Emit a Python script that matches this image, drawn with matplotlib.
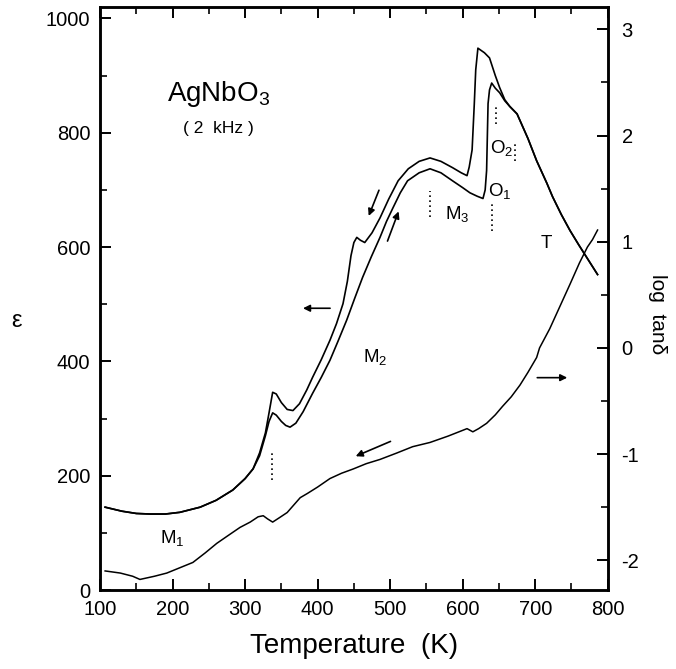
import numpy as np
import matplotlib
matplotlib.use("Agg")
import matplotlib.pyplot as plt
from matplotlib.ticker import MultipleLocator

plt.rcParams['font.family'] = ['Liberation Sans', 'DejaVu Sans']
plt.rcParams['mathtext.fontset'] = 'custom'
plt.rcParams['mathtext.rm'] = 'Liberation Sans'
plt.rcParams['mathtext.it'] = 'Liberation Sans'
plt.rcParams['axes.unicode_minus'] = False

# Data
# low-temperature part, shared by both permittivity curves
t_low = [107, 130, 150, 169, 190, 210, 238, 260, 283, 300, 311]
eps_low = [145, 138, 134, 133, 133, 136, 145, 157, 175, 195, 212]

# cooling run (upper curve)
t_cool = [320, 328, 333, 338, 343, 350, 358, 366, 375, 385, 393, 405, 417, 426,
          435, 441, 446, 450, 454, 459, 465, 475, 486, 498, 511, 525, 540, 555,
          570, 586, 598, 606, 609, 613, 616, 618, 621, 630, 637, 645, 651, 658]
eps_cool = [240, 275, 310, 346, 343, 328, 316, 314, 326, 350, 372, 403, 437, 466,
            501, 540, 585, 608, 617, 612, 608, 625, 651, 684, 716, 737, 750, 756,
            750, 739, 730, 725, 740, 770, 850, 910, 948, 940, 931, 900, 879, 858]

# heating run (lower curve)
t_heat = [320, 328, 333, 338, 343, 350, 356, 362, 370, 380, 393, 405, 417, 428,
          440, 451, 462, 474, 486, 495, 504, 514, 524, 540, 555, 570, 586, 600,
          610, 620, 628, 631, 633, 635, 637, 640, 645, 651, 658]
eps_heat = [235, 270, 295, 310, 306, 295, 288, 285, 292, 312, 344, 372, 402, 435,
            472, 510, 547, 583, 617, 645, 669, 695, 716, 730, 737, 730, 716, 704,
            695, 689, 685, 700, 734, 851, 875, 887, 878, 870, 856]

# high-temperature part, shared by both curves
t_high = [665, 675, 690, 702, 716, 724, 736, 748, 760, 771, 786]
eps_high = [846, 833, 790, 751, 712, 688, 657, 629, 604, 582, 552]

# log tan(delta)
t_loss = [107, 128, 145, 155, 175, 192, 210, 228, 245, 261, 278, 293, 307, 318,
          325, 331, 338, 347, 358, 376, 386, 400, 417, 433, 449, 467, 486, 509,
          531, 555, 580, 606, 614, 622, 633, 645, 655, 667, 679, 690, 702, 706,
          720, 734, 748, 761, 772, 779, 786]
log_loss = [-2.10, -2.12, -2.15, -2.18, -2.15, -2.12, -2.07, -2.02, -1.93, -1.84,
            -1.76, -1.69, -1.64, -1.59, -1.58, -1.61, -1.64, -1.60, -1.55, -1.41,
            -1.37, -1.31, -1.23, -1.18, -1.14, -1.09, -1.05, -0.99, -0.93, -0.89,
            -0.83, -0.76, -0.79, -0.76, -0.71, -0.63, -0.55, -0.46, -0.35, -0.23,
            -0.09, 0.00, 0.18, 0.39, 0.60, 0.80, 0.95, 1.02, 1.11]

phase_labels = ['M$_1$', 'M$_2$', 'M$_3$', 'O$_1$', 'O$_2$', 'T']
phase_t = [199, 479, 593, 651, 654, 716]
phase_eps = [91, 407, 658, 699, 774, 606]

# dotted markers at transitions: (T, eps_from, eps_to)
dot_t = [337, 555, 640, 646, 672]
dot_lo = [192, 652, 629, 816, 751]
dot_hi = [239, 699, 681, 851, 781]

fig = plt.figure(figsize=(6.76, 6.69), dpi=100)
ax = fig.add_axes([0.148, 0.118, 0.751, 0.8715])
ax2 = ax.twinx()

cool_t = t_low + t_cool + t_high
cool_e = eps_low + eps_cool + eps_high
heat_t = t_low + t_heat + t_high
heat_e = eps_low + eps_heat + eps_high
ax.plot(cool_t, cool_e, color='black', lw=1.2)
ax.plot(heat_t, heat_e, color='black', lw=1.2)
ax2.plot(t_loss, log_loss, color='black', lw=1.1)

ax.set_xlim(100, 800)
ax.set_ylim(0, 1020)
ax2.set_ylim(-2.28, 3.21)

for a in (ax, ax2):
    for s in a.spines.values():
        s.set_linewidth(1.8)

ax.xaxis.set_major_locator(MultipleLocator(100))
ax.xaxis.set_minor_locator(MultipleLocator(50))
ax.yaxis.set_major_locator(MultipleLocator(200))
ax.yaxis.set_minor_locator(MultipleLocator(100))
ax2.yaxis.set_major_locator(MultipleLocator(1))
ax2.yaxis.set_minor_locator(MultipleLocator(0.5))

ax.tick_params(axis='both', which='major', direction='in', length=8, width=1.4,
               labelsize=14.5, top=True, right=False, pad=7)
ax.tick_params(axis='both', which='minor', direction='in', length=5, width=1.2,
               top=True, right=False)
ax2.tick_params(axis='y', which='major', direction='in', length=8, width=1.4,
                labelsize=14.5, pad=10)
ax2.tick_params(axis='y', which='minor', direction='in', length=5, width=1.2)

ax.set_xlabel('Temperature  (K)', fontsize=20, labelpad=10)
fig.text(0.025, 0.52, 'ε', fontsize=17, ha='center', va='center')
fig.text(0.972, 0.53, 'log  tanδ', fontsize=15, rotation=-90,
         ha='center', va='center')

ax.text(263, 868, 'AgNbO$_3$', fontsize=20, ha='center', va='center')
ax.text(263, 807, '( 2  kHz )', fontsize=12.5, ha='center', va='center')

for lab, x, y in zip(phase_labels, phase_t, phase_eps):
    ax.text(x, y, lab, fontsize=13.5, ha='center', va='center')

for x, y0, y1 in zip(dot_t, dot_lo, dot_hi):
    ax.plot([x, x], [y0, y1], color='black', lw=1.2, ls=(0, (1, 2)))

arrow = dict(arrowstyle='-|>', color='black', lw=1.2, mutation_scale=10)
ax.annotate('', xy=(376, 493), xytext=(421, 493), arrowprops=arrow)
ax.annotate('', xy=(469, 650), xytext=(486, 704), arrowprops=arrow)
ax.annotate('', xy=(513, 667), xytext=(495, 606), arrowprops=arrow)
ax2.annotate('', xy=(748, -0.28), xytext=(699, -0.28), arrowprops=arrow)
ax2.annotate('', xy=(449, -1.03), xytext=(504, -0.87), arrowprops=arrow)

fig.savefig('out.png', dpi=100)
